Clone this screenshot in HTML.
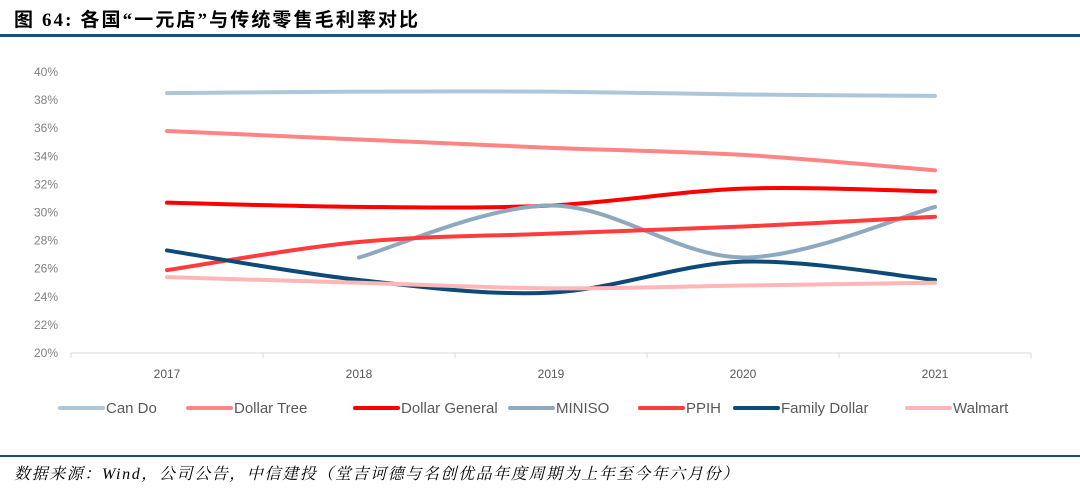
<!DOCTYPE html>
<html><head><meta charset="utf-8">
<style>
body{margin:0;width:1080px;height:491px;background:#fff;overflow:hidden;font-family:"Liberation Sans","Noto Sans CJK SC",sans-serif;}
#title{position:absolute;left:14px;top:5px;font-size:19px;font-weight:bold;color:#000;letter-spacing:2.1px;font-family:"Liberation Serif","Noto Sans CJK SC",sans-serif;}
#rule{position:absolute;left:0;top:34px;width:1080px;height:3px;background:#1f4e79;}
#rule2{position:absolute;left:0;top:455px;width:1080px;height:2px;background:#1f4e79;}
#src{position:absolute;left:14px;top:461px;font-size:16px;letter-spacing:1.6px;font-style:italic;color:#000;font-family:"Liberation Serif","Noto Serif CJK SC",serif;white-space:nowrap;}
svg{position:absolute;left:0;top:0;}
</style></head><body>
<div id="title">图 64: 各国“一元店”与传统零售毛利率对比</div>
<div id="rule"></div>
<svg id="chart" width="1080" height="491"></svg>
<div id="rule2"></div>
<div id="src">数据来源：Wind，公司公告，中信建投（堂吉诃德与名创优品年度周期为上年至今年六月份）</div>
<script>
const years=["2017","2018","2019","2020","2021"];
const yTicks=[20,22,24,26,28,30,32,34,36,38,40];
const names=["Can Do","Dollar Tree","Dollar General","MINISO","PPIH","Family Dollar","Walmart"];
const colors=["#adc6da","#ff8585","#ff0000","#8ea8c0","#ff3b3b","#0d4a77","#ffb6b6"];
const canDo=[38.5,38.6,38.6,38.4,38.3];
const dollarTree=[35.8,35.2,34.6,34.1,33.0];
const dollarGeneral=[30.7,30.4,30.5,31.7,31.5];
const miniso=[null,26.8,30.5,26.8,30.4];
const ppih=[25.9,27.9,28.5,29.0,29.7];
const familyDollar=[27.3,25.2,24.3,26.5,25.2];
const walmart=[25.4,25.0,24.6,24.8,25.0];
const series=[canDo,dollarTree,dollarGeneral,miniso,ppih,familyDollar,walmart];
const legendX=[60,188,355,510,640,735,907];
const svg=document.getElementById('chart');
const NS='http://www.w3.org/2000/svg';
const X=i=>167+i*192;
const Y=v=>353-(v-20)*14.05;
function mk(t,a){const e=document.createElementNS(NS,t);for(const k in a)e.setAttribute(k,a[k]);svg.appendChild(e);return e;}
yTicks.forEach(v=>{const t=mk('text',{x:58,y:Y(v)+4,'text-anchor':'end','font-size':12,fill:'#808080'});t.textContent=v+'%';

});
const ax=mk('line',{x1:71,y1:353,x2:1031,y2:353,stroke:'#d9d9d9','stroke-width':1});


for(let i=0;i<=years.length;i++){const tk=mk('line',{x1:71+i*192,y1:353,x2:71+i*192,y2:358,stroke:'#d9d9d9'});

}
years.forEach((y,i)=>{const t=mk('text',{x:X(i),y:378,'text-anchor':'middle','font-size':12,fill:'#595959'});t.textContent=y;

});
function path(vals){const p=[];vals.forEach((v,i)=>{if(v!=null)p.push([X(i),Y(v)]);});
let d='M'+p[0][0]+','+p[0][1];
for(let i=0;i<p.length-1;i++){const p0=p[i-1]||p[i],p1=p[i],p2=p[i+1],p3=p[i+2]||p2;
const c1=[p1[0]+(p2[0]-p0[0])/6,p1[1]+(p2[1]-p0[1])/6],c2=[p2[0]-(p3[0]-p1[0])/6,p2[1]-(p3[1]-p1[1])/6];
d+=` C${c1[0]},${c1[1]} ${c2[0]},${c2[1]} ${p2[0]},${p2[1]}`;}return d;}
series.forEach((s,k)=>{const e=mk('path',{d:path(s),fill:'none',stroke:colors[k],'stroke-width':4,'stroke-linecap':'round'});

});
names.forEach((n,k)=>{const l=mk('line',{x1:legendX[k],y1:408,x2:legendX[k]+43,y2:408,stroke:colors[k],'stroke-width':4,'stroke-linecap':'round'});


const t=mk('text',{x:legendX[k]+46,y:413,'font-size':15,fill:'#595959'});t.textContent=n;

});
</script>
</body></html>
